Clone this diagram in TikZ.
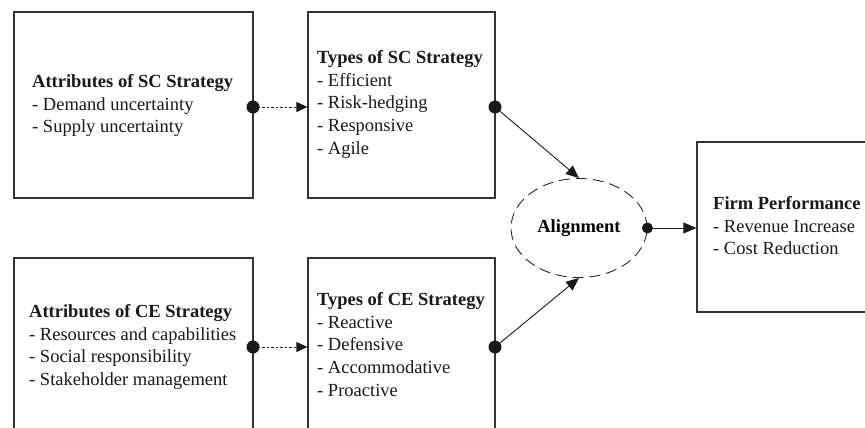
\documentclass[tikz,border=0pt]{standalone}
\usepackage{fontspec}
\setmainfont{Liberation Serif}
\usetikzlibrary{shapes.geometric,arrows.meta}
\tikzset{
  box/.style={draw=black!80, line width=1.3pt, rectangle, inner sep=0pt},
  txt/.style={anchor=north west, align=left, inner sep=0pt, font=\fontsize{18.5}{22.8}\selectfont, text=black!90},
  dot/.style={circle, fill=black!90, inner sep=0pt, minimum size=13pt},
  sdot/.style={circle, fill=black!90, inner sep=0pt, minimum size=11pt},
  dasharrow/.style={black!90, line width=0.9pt, dash pattern=on 2.5pt off 2pt, -{Triangle[length=11pt,width=10pt]}},
  solarrow/.style={black!90, line width=0.9pt, -{Triangle[length=13pt,width=11pt]}},
  ell/.style={ellipse, draw=black!85, line width=0.9pt, dash pattern=on 11pt off 6pt, minimum width=136pt, minimum height=99pt, inner sep=0pt, font=\bfseries\fontsize{18.5}{22}\selectfont}
}
\newcommand{\tl}{\rule{0pt}{13pt}}
\begin{document}
\begin{tikzpicture}[x=1pt,y=-1pt]
\useasboundingbox (0,0) rectangle (865,428);
\clip (0,0) rectangle (865,428);
% boxes
\node[box, minimum width=239pt, minimum height=186pt] (b1) at (133.5,105) {};
\node[box, minimum width=187pt, minimum height=186pt] (b2) at (401.5,105) {};
\node[box, minimum width=239pt, minimum height=186pt] (b3) at (133.5,351) {};
\node[box, minimum width=187pt, minimum height=186pt] (b4) at (401.5,351) {};
\node[box, minimum width=187pt, minimum height=170pt] (b5) at (790.5,227) {};
% texts
\node[txt] (t1) at (32,74) {\tl\textbf{Attributes of SC Strategy}\\- Demand uncertainty\\- Supply uncertainty};
\node[txt] (t2) at (317,50) {\tl\textbf{Types of SC Strategy}\\- Efficient\\- Risk-hedging\\- Responsive\\- Agile};
\node[txt] (t3) at (29,304) {\tl\textbf{Attributes of CE Strategy}\\- Resources and capabilities\\- Social responsibility\\- Stakeholder management};
\node[txt] (t4) at (317,292) {\tl\textbf{Types of CE Strategy}\\- Reactive\\- Defensive\\- Accommodative\\- Proactive};
\node[txt] (t5) at (713,196) {\tl\textbf{Firm Performance}\\- Revenue Increase\\- Cost Reduction};
% alignment
\node[ell] (al) at (579,228) {Alignment};
% dots
\node[dot] (d1) at (253,107) {};
\node[dot] (d2) at (495,107) {};
\node[dot] (d3) at (253,347) {};
\node[dot] (d4) at (495,347) {};
\node[sdot] (d5) at (al.east) {};
% connectors
\coordinate (e1) at (b2.west |- d1);
\coordinate (e3) at (b4.west |- d3);
\coordinate (e5) at (b5.west |- d5);
\draw[dasharrow] (d1.center) -- (e1);
\draw[dasharrow] (d3.center) -- (e3);
\draw[solarrow] (d2.center) -- (al.north);
\draw[solarrow] (d4.center) -- (al.south);
\draw[solarrow] (d5.center) -- (e5);
\end{tikzpicture}
\end{document}
